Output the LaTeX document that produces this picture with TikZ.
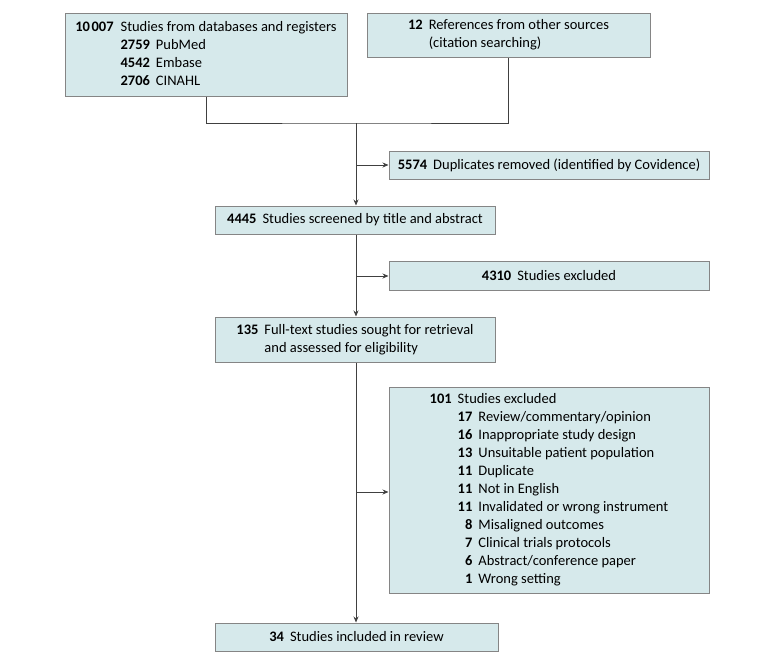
\documentclass[tikz,border=0pt]{standalone}
\usepackage{fontspec}
\setmainfont{Carlito}
\usetikzlibrary{arrows.meta}
\definecolor{boxfill}{HTML}{D6E9EB}
\definecolor{boxline}{HTML}{858585}
\definecolor{conn}{HTML}{404040}
\newcommand{\nb}[1]{\textbf{#1}}
\begin{document}
\begin{tikzpicture}[x=1pt,y=-1pt,
  box/.style={draw=boxline, line width=1pt, fill=boxfill, inner sep=0pt, align=center,
    font=\fontsize{14.5}{18}\selectfont},
  conline/.style={draw=conn, line width=0.8pt},
  arr/.style={conline, -{Stealth[length=6pt,width=5pt]}}]
\useasboundingbox (0,0) rectangle (780,665);

\node[box, minimum width=282pt, minimum height=83pt] (db) at (206,54.5) {%
\begin{tabular}{@{}r@{\hspace{7pt}}r@{\hspace{6pt}}l@{}}
\nb{10\hspace{1.5pt}007} & \multicolumn{2}{@{}l@{}}{Studies from databases and registers}\\
 & \nb{2759} & PubMed\\
 & \nb{4542} & Embase\\
 & \nb{2706} & CINAHL
\end{tabular}};

\node[box, minimum width=283pt, minimum height=44pt] (oth) at (508.5,35) {%
\begin{tabular}{@{}r@{\hspace{6pt}}l@{}}
\nb{12} & References from other sources\\
 & (citation searching)
\end{tabular}};

\node[box, minimum width=320pt, minimum height=28pt] (dup) at (549,165) {%
\nb{5574}\hspace{6pt}Duplicates removed (identified by Covidence)};

\node[box, minimum width=280pt, minimum height=28pt] (scr) at (355,220) {%
\nb{4445}\hspace{6pt}Studies screened by title and abstract};

\node[box, minimum width=320pt, minimum height=29pt] (exa) at (549,275.5) {%
\nb{4310}\hspace{6pt}Studies excluded};

\node[box, minimum width=280pt, minimum height=45pt] (full) at (355,339.5) {%
\begin{tabular}{@{}r@{\hspace{6pt}}l@{}}
\nb{135} & Full-text studies sought for retrieval\\
 & and assessed for eligibility
\end{tabular}};

\node[box, minimum width=320pt, minimum height=206pt] (exb) at (549,490) {%
\begin{tabular}{@{}r@{\hspace{6pt}}r@{\hspace{6pt}}l@{}}
\nb{101} & \multicolumn{2}{@{}l@{}}{Studies excluded}\\
 & \nb{17} & Review/commentary/opinion\\
 & \nb{16} & Inappropriate study design\\
 & \nb{13} & Unsuitable patient population\\
 & \nb{11} & Duplicate\\
 & \nb{11} & Not in English\\
 & \nb{11} & Invalidated or wrong instrument\\
 & \nb{8} & Misaligned outcomes\\
 & \nb{7} & Clinical trials protocols\\
 & \nb{6} & Abstract/conference paper\\
 & \nb{1} & Wrong setting
\end{tabular}};

\node[box, minimum width=283pt, minimum height=28pt] (inc) at (356.5,637) {%
\nb{34}\hspace{6pt}Studies included in review};

\coordinate (j) at (356,123);
\coordinate (b1) at (356,165);
\coordinate (b2) at (356,276);
\coordinate (b3) at (356,492);

\draw[conline] (db.south) |- (j) -| (oth.south);
\draw[arr] (j) -- (j |- scr.north);
\draw[arr] (b1) -- (dup.west |- b1);
\draw[conline] (scr.south -| j) -- (b2);
\draw[arr] (b2) -- (full.north -| j);
\draw[arr] (b2) -- (exa.west |- b2);
\draw[conline] (full.south -| j) -- (b3);
\draw[arr] (b3) -- (inc.north -| j);
\draw[arr] (b3) -- (exb.west |- b3);
\end{tikzpicture}
\end{document}
